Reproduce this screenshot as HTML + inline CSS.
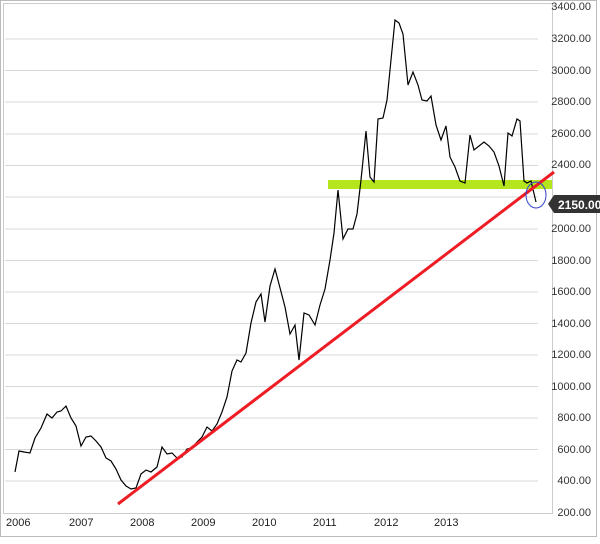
<!DOCTYPE html>
<html><head><style>
body{margin:0;background:#fff;}
svg text{font-family:"Liberation Sans",sans-serif;}
</style></head><body>
<svg width="600" height="539" viewBox="0 0 600 539" xmlns="http://www.w3.org/2000/svg">
<rect x="0" y="0" width="600" height="539" fill="#fff"/>
<rect x="0.5" y="0.5" width="596" height="536" fill="none" stroke="#bbb"/>
<rect x="3.5" y="3.5" width="549" height="510" fill="#fff" stroke="#ccc"/>
<g stroke="#d8d8d8" stroke-width="1">
<line x1="5" x2="538" y1="39" y2="39"/><line x1="5" x2="538" y1="70.5" y2="70.5"/>
<line x1="5" x2="538" y1="102" y2="102"/><line x1="5" x2="538" y1="134" y2="134"/>
<line x1="5" x2="538" y1="165.5" y2="165.5"/><line x1="5" x2="538" y1="197" y2="197"/>
<line x1="5" x2="538" y1="229" y2="229"/><line x1="5" x2="538" y1="260.5" y2="260.5"/>
<line x1="5" x2="538" y1="292" y2="292"/><line x1="5" x2="538" y1="323.5" y2="323.5"/>
<line x1="5" x2="538" y1="355" y2="355"/><line x1="5" x2="538" y1="386.5" y2="386.5"/>
<line x1="5" x2="538" y1="418" y2="418"/><line x1="5" x2="538" y1="449.5" y2="449.5"/>
<line x1="5" x2="538" y1="481" y2="481"/>
</g>
<g font-size="11" fill="#333" text-anchor="end">
<text x="591" y="10">3400.00</text><text x="591" y="42">3200.00</text><text x="591" y="74">3000.00</text>
<text x="591" y="105">2800.00</text><text x="591" y="137">2600.00</text><text x="591" y="168">2400.00</text>
<text x="591" y="232">2000.00</text><text x="591" y="264">1800.00</text><text x="591" y="295">1600.00</text>
<text x="591" y="327">1400.00</text><text x="591" y="358">1200.00</text><text x="591" y="390">1000.00</text>
<text x="591" y="421">800.00</text><text x="591" y="453">600.00</text><text x="591" y="484">400.00</text>
<text x="591" y="516">200.00</text>
</g>
<g font-size="11" fill="#222">
<text x="6" y="526">2006</text><text x="69" y="526">2007</text><text x="130" y="526">2008</text>
<text x="191" y="526">2009</text><text x="252" y="526">2010</text><text x="313" y="526">2011</text>
<text x="374" y="526">2012</text><text x="434" y="526">2013</text>
</g>
<rect x="328" y="180" width="224" height="9" fill="#b5e61d"/>
<polyline fill="none" stroke="#000" stroke-width="1.2" points="15,472 19,451 24,452 30,453 35,438 41,428 47,414 52,418 57,412 61,411 66,406 71,418 76,426 81,446 86,437 91,436 96,441 101,447 106,458 111,461 116,469 121,480 126,486 131,489 136,488 141,474 146,470 151,472 157,467 162,447 167,454 172,453 177,458 182,457 187,449 192,448 197,442 202,437 207,427 212,431 217,424 222,412 227,397 232,371 237,360 241,362 246,353 251,323 256,302 261,294 265,322 270,286 275,269 279,284 285,307 290,334 295,325 299,360 304,313 309,315 315,325 320,305 325,289 330,260 334,233 338,190 343,239 348,229 353,229 357,214 361,180 366,131 370,177 374,182 378,119 383,118 387,100 391,60 395,20 399,23 403,34 408,85 413,72 418,85 422,100 427,101 431,96 436,125 441,140 446,126 450,157 455,167 460,181 465,183 470,135 474,150 479,146 484,142 489,146 494,152 499,166 504,186 508,133 512,136 517,119 520,121 524,181 527,183 531,181 536,202"/>
<line x1="118" y1="504" x2="554" y2="172" stroke="#ee1c24" stroke-width="3"/>
<ellipse cx="536" cy="195" rx="10" ry="13" fill="none" stroke="#3344cc" stroke-width="1"/>
<path d="M548,204 L554,195 L600,195 L600,213 L554,213 Z" fill="#333"/>
<text x="558" y="209" font-size="12" font-weight="bold" fill="#fff">2150.00</text>
</svg>
</body></html>
